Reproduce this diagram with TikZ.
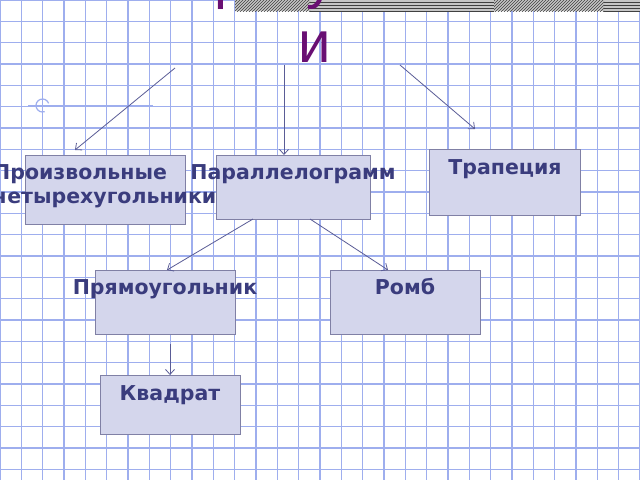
\documentclass[tikz,border=0pt]{standalone}
\usepackage{fontspec}
\setmainfont{DejaVu Sans}
\newfontfamily\titlefont{Liberation Sans}
\usetikzlibrary{arrows.meta,patterns}
\definecolor{gridc}{RGB}{158,174,238}
\definecolor{boxfill}{RGB}{212,214,236}
\definecolor{boxline}{RGB}{128,128,165}
\definecolor{txt}{RGB}{58,60,125}
\definecolor{arrc}{RGB}{90,92,150}
\definecolor{titlec}{RGB}{105,15,115}
\begin{document}
\begin{tikzpicture}[x=1pt,y=-1pt,
  gridline/.style={draw=gridc,line width=1.2pt},
  box/.style={draw=boxline,fill=boxfill,line width=0.9pt,inner sep=0pt,outer sep=0pt},
  lbl/.style={text=txt,font=\fontsize{20.5}{24}\selectfont\bfseries,inner sep=0pt},
  titletext/.style={text=titlec,font=\titlefont\fontsize{58}{64}\selectfont,inner sep=0pt,anchor=base},
  conn/.style={draw=arrc,line width=0.8pt,-{Straight Barb[length=5pt,width=9pt]}},
]
\useasboundingbox (0,0) rectangle (640,480);
\fill[white] (0,0) rectangle (640,480);
% grid
\foreach \i in {0,...,30} \draw[gridline] (\i*21.3333,0) -- (\i*21.3333,480);
\foreach \j in {0,...,22} \draw[gridline] (0,\j*21.3333) -- (640,\j*21.3333);
% small mark
\draw[gridc,line width=1.2pt] (28,105.5) -- (153,105.5);
\draw[gridc,line width=1.2pt] (42.5,105.5) ++(70:6.5) arc (70:340:6.5);

\begin{scope}
\clip (0,0) rectangle (640,480);
% hatched bar
\fill[gray!45] (235,0) rectangle (640,11);
\fill[pattern=north east lines,pattern color=black!75] (235,0) rectangle (310,11);
\fill[pattern=horizontal lines,pattern color=black!75] (310,0) rectangle (494,11);
\fill[pattern=north east lines,pattern color=black!75] (494,0) rectangle (604,11);
\fill[pattern=horizontal lines,pattern color=black!75] (604,0) rectangle (640,11);
% title
\node[titletext] (title1) at (309,-3) {Четырехугольник};
\node[titletext] (title2) at (315,62) {и};
\end{scope}

% boxes
\node[box,minimum width=160pt,minimum height=69pt] (quad) at (105,189.5) {};
\node[box,minimum width=154pt,minimum height=64pt] (par) at (293,187) {};
\node[box,minimum width=151pt,minimum height=66pt] (trap) at (504.5,182) {};
\node[box,minimum width=140pt,minimum height=64pt] (rect) at (165,302) {};
\node[box,minimum width=150pt,minimum height=64pt] (romb) at (405,302) {};
\node[box,minimum width=140pt,minimum height=59pt] (sq) at (170,404.5) {};

% labels
\node[lbl,anchor=base west] (lquad1) at (-7,179) {Произвольные};
\node[lbl,anchor=base west] (lquad2) at (-7,203) {четырехугольники};
\node[lbl,anchor=base] (lpar) at (293,179) {Параллелограмм};
\node[lbl,anchor=base] (ltrap) at (505,174) {Трапеция};
\node[lbl,anchor=base] (lrect) at (165,294) {Прямоугольник};
\node[lbl,anchor=base] (lromb) at (405,294) {Ромб};
\node[lbl,anchor=base] (lsq) at (170,400) {Квадрат};

% connectors
\coordinate (s1) at (175,68);
\coordinate (s2) at (284,65);
\coordinate (s3) at (400,65);
\draw[conn] (s1) -- ([shift={(-30,-5)}]quad.north);
\draw[conn] (s2) -- ([xshift=-9pt]par.north);
\draw[conn] (s3) -- ([shift={(-29.5,-20)}]trap.north);
\draw[conn] ([xshift=-40pt]par.south) -- ([xshift=2pt]rect.north);
\draw[conn] ([xshift=17pt]par.south) -- ([xshift=-17pt]romb.north);
\draw[conn] ([shift={(5,10)}]rect.south) -- (sq.north);
\end{tikzpicture}
\end{document}
